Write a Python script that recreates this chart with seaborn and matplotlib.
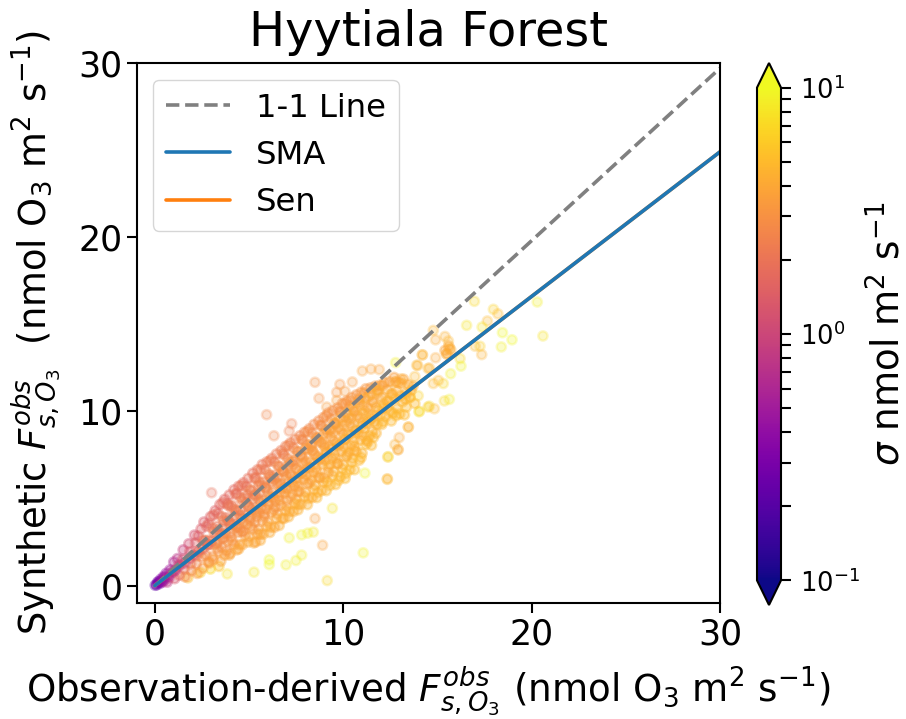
import numpy as np
import seaborn as sns
import matplotlib.pyplot as plt
from matplotlib.colors import LogNorm
from matplotlib.cm import ScalarMappable

# dense part of the cloud
core_obs = [
    0.02, 0.1, 0.15, 0.25, 0.3, 0.4, 0.45, 0.5, 0.6, 0.65, 0.75, 0.8,
    1.0, 1.02, 1.05, 1.2, 1.25, 1.3, 1.5, 1.48, 1.55, 1.6,
    1.8, 1.85, 1.9, 1.95, 2.1, 2.15, 2.2, 2.2, 2.25,
    2.6, 2.75, 2.65, 2.8, 2.7, 2.85,
    3.2, 3.1, 3.3, 3.15, 3.25, 3.3, 3.1,
    3.7, 3.6, 3.8, 3.65, 3.75, 3.6, 3.8, 3.7,
    4.2, 4.3, 4.1, 4.25, 4.15, 4.3, 4.1, 4.2, 4.35,
    4.7, 4.6, 4.75, 4.65, 4.8, 4.6, 4.7, 4.8, 4.65,
    5.2, 5.3, 5.1, 5.25, 5.15, 5.3, 5.1, 5.2, 5.35, 5.25,
    5.7, 5.6, 5.8, 5.65, 5.75, 5.6, 5.8, 5.7, 5.6, 5.75,
    6.2, 6.1, 6.3, 6.15, 6.25, 6.1, 6.3, 6.2, 6.35, 6.15,
    6.7, 6.8, 6.6, 6.75, 6.65, 6.8, 6.6, 6.7, 6.75, 6.85,
    7.2, 7.1, 7.3, 7.15, 7.25, 7.1, 7.3, 7.2, 7.15, 7.35,
    7.7, 7.8, 7.6, 7.75, 7.65, 7.8, 7.6, 7.7, 7.75, 7.6,
    8.2, 8.1, 8.3, 8.15, 8.25, 8.1, 8.3, 8.2, 8.35, 8.15,
    8.7, 8.8, 8.6, 8.75, 8.65, 8.8, 8.6, 8.7, 8.85, 8.65,
    9.2, 9.1, 9.3, 9.15, 9.25, 9.1, 9.3, 9.2, 9.15, 9.3,
    9.7, 9.8, 9.6, 9.75, 9.65, 9.8, 9.6, 9.7, 9.85, 9.75,
    10.2, 10.1, 10.3, 10.15, 10.25, 10.1, 10.3, 10.2, 10.35, 10.15,
    10.7, 10.8, 10.6, 10.75, 10.65, 10.8, 10.6, 10.7, 10.85,
    11.2, 11.1, 11.3, 11.15, 11.25, 11.1, 11.3, 11.2,
    11.7, 11.8, 11.6, 11.75, 11.65, 11.8, 11.6,
    12.2, 12.1, 12.3, 12.15, 12.25, 12.1,
    12.7, 12.8, 12.6, 12.75, 12.65, 12.8,
    13.2, 13.1, 13.3, 13.15, 13.25,
    13.7, 13.6, 13.8,
]
core_syn = [
    0.02, 0.05, 0.2, 0.12, 0.35, 0.2, 0.5, 0.3, 0.7, 0.2, 0.45, 0.9,
    1.35, 0.8, 0.4, 1.55, 1.15, 0.6, 2.05, 1.5, 0.95, 0.5,
    2.4, 1.95, 1.25, 0.85, 2.9, 2.45, 1.7, 1.25, 0.7,
    3.65, 3.4, 2.6, 2.35, 1.75, 1.35,
    4.3, 4.05, 3.4, 3.05, 2.4, 2.15, 1.5,
    4.95, 4.75, 3.9, 3.7, 3.0, 2.7, 2.0, 1.75,
    5.5, 5.25, 4.6, 4.35, 3.5, 3.35, 2.55, 2.35, 2.05,
    5.9, 5.75, 5.0, 4.85, 4.05, 3.85, 3.1, 2.85, 2.35,
    6.45, 6.15, 5.45, 5.2, 4.4, 4.3, 3.4, 3.25, 2.5, 2.45,
    6.95, 6.65, 5.95, 5.75, 4.9, 4.75, 3.95, 3.7, 2.95, 2.95,
    7.3, 7.15, 6.3, 6.15, 5.35, 5.1, 4.35, 4.2, 3.35, 3.35,
    7.75, 7.6, 6.85, 6.65, 5.8, 5.6, 4.9, 4.6, 3.85, 3.85,
    8.2, 8.05, 7.15, 7.05, 6.3, 6.0, 5.25, 5.1, 4.25, 4.25,
    8.6, 8.4, 7.7, 7.45, 6.6, 6.45, 5.7, 5.4, 4.65, 4.65,
    9.0, 8.85, 8.0, 7.85, 7.1, 6.8, 6.05, 5.9, 5.05, 5.0,
    9.45, 9.2, 8.5, 8.25, 7.4, 7.25, 6.5, 6.2, 5.45, 5.35,
    9.9, 9.75, 8.9, 8.75, 8.0, 7.7, 6.95, 6.8, 5.95, 5.75,
    10.2, 10.0, 9.3, 9.05, 8.2, 8.05, 7.3, 7.0, 6.25, 6.05,
    10.6, 10.45, 9.6, 9.45, 8.7, 8.4, 7.65, 7.5, 6.65, 6.45,
    10.95, 10.7, 10.0, 9.75, 8.9, 8.75, 8.0, 7.7, 7.2,
    11.3, 11.05, 10.2, 10.05, 9.3, 9.0, 8.25, 8.1,
    11.45, 11.2, 10.5, 10.25, 9.4, 9.25, 8.5,
    11.65, 11.5, 10.6, 10.45, 9.7, 9.4,
    11.95, 11.7, 11.0, 10.75, 9.9, 9.75,
    11.85, 11.6, 10.7, 10.55, 9.8,
    11.45, 11.2, 10.45,
]
core_sigma = [
    0.22, 0.25, 0.28, 0.35, 0.32, 0.45, 0.38, 0.5, 0.42, 0.8, 0.65, 0.5,
    0.6, 0.9, 1.3, 0.75, 1.0, 1.6, 0.9, 1.2, 1.7, 2.6,
    1.1, 1.4, 1.9, 2.5, 1.2, 1.5, 2.0, 2.6, 3.5,
    1.4, 1.7, 2.0, 2.3, 2.7, 3.2,
    1.5, 1.8, 2.0, 2.3, 2.6, 2.9, 3.4,
    1.6, 1.8, 2.0, 2.3, 2.5, 2.8, 3.0, 3.6,
    1.7, 1.9, 2.1, 2.3, 2.5, 2.7, 3.0, 3.3, 3.8,
    1.8, 2.0, 2.2, 2.4, 2.6, 2.8, 3.0, 3.4, 3.9,
    1.9, 2.1, 2.3, 2.5, 2.7, 2.9, 3.1, 3.3, 3.6, 4.0,
    2.0, 2.2, 2.4, 2.6, 2.8, 3.0, 3.2, 3.4, 3.7, 4.0,
    2.1, 2.3, 2.5, 2.7, 2.9, 3.1, 3.3, 3.5, 3.8, 4.1,
    2.2, 2.4, 2.6, 2.8, 3.0, 3.2, 3.4, 3.6, 3.9, 4.2,
    2.3, 2.5, 2.7, 2.9, 3.1, 3.3, 3.5, 3.7, 4.0, 4.2,
    2.5, 2.7, 2.9, 3.1, 3.3, 3.5, 3.7, 3.9, 4.1, 4.3,
    2.6, 2.8, 3.0, 3.2, 3.4, 3.6, 3.8, 4.0, 4.2, 4.4,
    2.7, 2.9, 3.1, 3.3, 3.5, 3.7, 3.9, 4.1, 4.3, 4.5,
    2.8, 3.0, 3.3, 3.5, 3.7, 3.9, 4.1, 4.3, 4.5, 4.7,
    2.9, 3.1, 3.4, 3.6, 3.8, 4.0, 4.2, 4.4, 4.6, 4.8,
    3.0, 3.2, 3.5, 3.7, 3.9, 4.1, 4.3, 4.5, 4.7, 4.9,
    3.1, 3.4, 3.6, 3.8, 4.0, 4.2, 4.4, 4.6, 4.8,
    3.2, 3.5, 3.8, 4.0, 4.2, 4.4, 4.6, 4.8,
    3.3, 3.6, 3.9, 4.2, 4.4, 4.6, 4.8,
    3.4, 3.8, 4.1, 4.4, 4.6, 4.8,
    3.5, 4.0, 4.3, 4.5, 4.7, 4.9,
    3.8, 4.2, 4.5, 4.7, 4.9,
    4.2, 4.6, 5.0,
]

# second pass through the cloud, between the columns above
fill_obs = [
    1.75, 2.4, 2.95, 3.4,
    2.45, 2.3, 2.55, 2.35, 2.5, 2.55,
    2.95, 2.85, 3.05, 2.85, 3.0, 3.05, 2.9,
    3.45, 3.35, 3.55, 3.35, 3.5, 3.55, 3.4, 3.5,
    3.95, 3.85, 4.05, 3.85, 4.0, 4.05, 3.9, 4.0, 3.95,
    4.45, 4.35, 4.55, 4.35, 4.5, 4.55, 4.4, 4.5, 4.45,
    4.95, 4.85, 5.05, 4.85, 5.0, 5.05, 4.9, 5.0, 4.95,
    5.45, 5.35, 5.55, 5.35, 5.5, 5.55, 5.4, 5.5, 5.45, 5.6,
    5.95, 5.85, 6.05, 5.85, 6.0, 6.05, 5.9, 6.0, 5.95, 6.1,
    6.45, 6.35, 6.55, 6.35, 6.5, 6.55, 6.4, 6.5, 6.45, 6.6,
    6.95, 6.85, 7.05, 6.85, 7.0, 7.05, 6.9, 7.0, 6.95, 7.1,
    7.45, 7.35, 7.55, 7.35, 7.5, 7.55, 7.4, 7.5, 7.45, 7.6,
    7.95, 7.85, 8.05, 7.85, 8.0, 8.05, 7.9, 8.0, 7.95, 8.1,
    8.45, 8.35, 8.55, 8.35, 8.5, 8.55, 8.4, 8.5, 8.45, 8.6,
    8.95, 8.85, 9.05, 8.85, 9.0, 9.05, 8.9, 9.0, 8.95, 9.1,
    9.45, 9.35, 9.55, 9.35, 9.5, 9.55, 9.4, 9.5, 9.45, 9.6,
    9.95, 9.85, 10.05, 9.85, 10.0, 10.05, 9.9, 10.0, 9.95, 10.1,
    10.45, 10.35, 10.55, 10.35, 10.5, 10.55, 10.4, 10.5, 10.45, 10.6,
    10.95, 10.85, 11.05, 10.85, 11.0, 11.05, 10.9, 11.0, 10.95,
    11.45, 11.35, 11.55, 11.35, 11.5, 11.55, 11.4, 11.5,
    11.95, 11.85, 12.05, 11.85, 12.0, 12.05,
    12.45, 12.35, 12.55, 12.35, 12.5, 12.55,
    12.95, 12.85, 13.05, 12.85, 13.0,
    13.45, 13.35, 13.55, 13.35,
    15.4, 15.6, 15.5, 15.7,
]
fill_syn = [
    0.45, 0.75, 0.95, 1.1,
    3.25, 2.85, 2.6, 1.9, 1.65, 1.0,
    3.95, 3.55, 3.3, 2.6, 2.35, 1.65, 1.3,
    4.65, 4.15, 3.95, 3.2, 2.95, 2.2, 1.95, 1.4,
    5.2, 4.7, 4.5, 3.75, 3.5, 2.8, 2.55, 1.85, 1.75,
    5.7, 5.3, 5.05, 4.3, 4.05, 3.3, 3.05, 2.35, 2.1,
    6.15, 5.7, 5.5, 4.75, 4.5, 3.75, 3.5, 2.8, 2.5,
    6.65, 6.2, 5.95, 5.2, 4.95, 4.2, 3.95, 3.2, 2.95, 2.6,
    7.1, 6.65, 6.4, 5.65, 5.4, 4.65, 4.4, 3.65, 3.4, 3.05,
    7.55, 7.1, 6.85, 6.1, 5.85, 5.1, 4.85, 4.1, 3.85, 3.45,
    8.0, 7.5, 7.3, 6.55, 6.3, 5.55, 5.3, 4.55, 4.3, 3.95,
    8.4, 7.9, 7.7, 6.95, 6.7, 5.95, 5.7, 4.95, 4.7, 4.35,
    8.8, 8.35, 8.1, 7.35, 7.1, 6.35, 6.1, 5.35, 5.1, 4.65,
    9.25, 8.75, 8.5, 7.75, 7.5, 6.75, 6.5, 5.75, 5.5, 5.05,
    9.65, 9.2, 8.95, 8.2, 7.95, 7.2, 6.95, 6.2, 5.95, 5.45,
    10.05, 9.55, 9.3, 8.55, 8.3, 7.55, 7.3, 6.55, 6.3, 5.8,
    10.45, 9.95, 9.7, 8.95, 8.7, 7.95, 7.7, 6.95, 6.7, 6.15,
    10.8, 10.3, 10.05, 9.3, 9.05, 8.3, 8.05, 7.3, 7.05, 6.65,
    11.1, 10.6, 10.35, 9.6, 9.35, 8.6, 8.35, 7.6, 7.35,
    11.35, 10.85, 10.6, 9.85, 9.6, 8.85, 8.6, 8.05,
    11.5, 11.05, 10.8, 10.05, 9.8, 9.25,
    11.7, 11.25, 11.0, 10.25, 10.0, 9.45,
    11.65, 11.15, 10.9, 10.15, 9.85,
    11.55, 11.05, 10.8, 10.25,
    13.5, 13.75, 13.3, 13.55,
]
fill_sigma = [
    5.0, 6.0, 7.0, 5.5,
    1.4, 1.7, 2.0, 2.4, 2.8, 3.4,
    1.5, 1.8, 2.1, 2.4, 2.7, 3.0, 3.5,
    1.6, 1.9, 2.1, 2.4, 2.6, 2.9, 3.2, 3.7,
    1.7, 1.9, 2.2, 2.4, 2.6, 2.8, 3.1, 3.5, 3.9,
    1.8, 2.0, 2.3, 2.5, 2.7, 2.9, 3.2, 3.6, 4.0,
    1.9, 2.1, 2.4, 2.6, 2.8, 3.0, 3.3, 3.7, 4.1,
    2.0, 2.2, 2.4, 2.6, 2.8, 3.0, 3.2, 3.5, 3.8, 4.2,
    2.1, 2.3, 2.5, 2.7, 2.9, 3.1, 3.3, 3.6, 3.9, 4.2,
    2.2, 2.4, 2.6, 2.8, 3.0, 3.2, 3.4, 3.7, 4.0, 4.3,
    2.3, 2.5, 2.7, 2.9, 3.1, 3.3, 3.5, 3.8, 4.1, 4.4,
    2.4, 2.6, 2.8, 3.0, 3.2, 3.4, 3.6, 3.9, 4.2, 4.5,
    2.6, 2.8, 3.0, 3.2, 3.4, 3.6, 3.8, 4.0, 4.3, 4.6,
    2.7, 2.9, 3.1, 3.3, 3.5, 3.7, 3.9, 4.1, 4.4, 4.7,
    2.8, 3.0, 3.2, 3.4, 3.6, 3.8, 4.0, 4.2, 4.5, 4.8,
    2.9, 3.1, 3.3, 3.5, 3.7, 3.9, 4.1, 4.3, 4.6, 4.9,
    3.0, 3.2, 3.4, 3.6, 3.8, 4.0, 4.2, 4.4, 4.7, 5.0,
    3.1, 3.3, 3.5, 3.7, 3.9, 4.1, 4.3, 4.5, 4.8, 5.0,
    3.2, 3.4, 3.6, 3.8, 4.0, 4.2, 4.4, 4.6, 4.9,
    3.3, 3.5, 3.8, 4.0, 4.2, 4.4, 4.6, 4.8,
    3.5, 3.8, 4.1, 4.4, 4.6, 4.8,
    3.6, 4.0, 4.3, 4.5, 4.7, 4.9,
    3.8, 4.2, 4.5, 4.7, 4.9,
    4.2, 4.5, 4.8, 5.0,
    3.8, 4.0, 4.0, 4.2,
]

# thickest middle of the band
inner_obs = [
    0.2, 0.35, 0.5, 0.7, 0.9, 1.1, 1.35, 1.6, 1.85, 2.05, 2.3, 2.55, 2.8, 3.0,
    3.3, 3.35, 3.6, 3.65, 3.95, 4.05, 4.25, 4.4, 4.55, 4.7, 4.95, 5.05, 5.2, 5.4,
    5.55, 5.65, 5.9, 6.0, 6.2, 6.3, 6.5, 6.65, 6.8, 6.95, 7.1, 7.3, 7.4, 7.55,
    7.75, 7.85, 8.0, 8.2, 8.3, 8.5, 8.65, 8.8, 8.95, 9.1, 9.3, 9.4, 9.55, 9.75,
    9.85, 10.05, 10.2, 10.35, 10.5, 10.7, 10.85, 11.0, 11.15, 11.35, 11.5, 11.65, 11.85, 12.1,
    4.6, 5.3, 5.8, 6.4, 7.0, 7.6, 8.1, 8.75, 9.2, 9.7, 10.15, 10.6, 11.25, 11.75,
    3.9, 4.9, 5.5, 6.1, 6.7, 7.2, 7.9, 8.4, 9.0, 9.5, 10.0, 10.45, 11.05, 12.4,
]
inner_syn = [
    0.2, 0.25, 0.45, 0.55, 0.75, 0.9, 1.2, 1.3, 1.55, 1.75, 2.0, 2.1, 2.35, 2.55,
    3.05, 2.5, 3.3, 2.75, 3.7, 3.1, 4.0, 3.35, 4.3, 3.65, 4.6, 3.9, 4.95, 4.2,
    5.3, 4.45, 5.6, 4.8, 5.95, 5.05, 6.2, 5.35, 6.55, 5.6, 6.9, 5.9, 7.15, 6.2,
    7.5, 6.45, 7.85, 6.75, 8.1, 7.05, 8.4, 7.3, 8.7, 7.6, 9.0, 7.85, 9.35, 8.1,
    9.6, 8.4, 9.9, 8.65, 10.2, 8.9, 10.5, 9.2, 10.75, 9.45, 11.0, 9.75, 11.2, 10.2,
    3.1, 3.65, 4.1, 4.5, 4.9, 5.4, 5.85, 6.2, 6.5, 7.0, 7.4, 7.75, 8.35, 8.75,
    4.6, 5.2, 5.75, 6.3, 5.85, 6.4, 7.0, 7.7, 8.1, 8.8, 9.2, 9.6, 9.9, 10.6,
]
inner_sigma = [
    0.3, 0.4, 0.45, 0.55, 0.7, 0.8, 0.95, 1.1, 1.25, 1.4, 1.55, 1.7, 1.8, 1.9,
    2.0, 2.7, 2.0, 2.8, 2.1, 2.8, 2.1, 2.9, 2.2, 3.0, 2.3, 3.0, 2.3, 3.1,
    2.5, 3.1, 2.6, 3.2, 2.6, 3.3, 2.8, 3.4, 2.9, 3.5, 3.0, 3.6, 3.1, 3.7,
    3.2, 3.8, 3.3, 3.8, 3.4, 3.9, 3.5, 4.0, 3.6, 4.1, 3.7, 4.2, 3.8, 4.2,
    3.9, 4.3, 4.0, 4.4, 4.0, 4.5, 4.1, 4.5, 4.2, 4.6, 4.3, 4.6, 4.4, 4.7,
    2.8, 2.9, 3.0, 3.1, 3.3, 3.4, 3.5, 3.7, 3.8, 3.9, 4.1, 4.2, 4.4, 4.5,
    2.0, 2.2, 2.4, 2.5, 3.0, 3.2, 3.3, 3.5, 3.7, 3.8, 4.0, 4.1, 4.4, 4.6,
]

# loose points at the edges of the cloud
edge_obs = [
    3.01, 5.93, 8.50, 8.71, 9.12, 7.26, 7.13, 6.32, 9.82, 9.65, 10.09, 10.48, 11.01, 11.47, 11.91,
    9.65, 10.35, 12.78, 14.2, 13.9, 14.5, 12.34, 11.06, 9.15, 8.9, 8.5, 9.42, 7.13, 7.79, 8.11, 8.41,
    6.07, 6.07, 6.96, 7.49, 7.79, 5.26, 3.84, 11.15, 12.36, 12.9, 13.45, 14.04, 14.5,
    16.96, 17.97, 18.21, 17.65, 16.55, 17.37, 20.3, 20.6, 18.45, 18.96, 18.39, 17.26, 17.0, 17.35,
    14.78, 14.9, 15.4, 15.58, 15.63, 15.49, 14.2, 14.9, 13.95, 14.57, 16.2, 16.25, 15.7, 15.31,
    13.8, 13.05, 12.75, 14.78, 15.05, 13.98, 13.54, 15.63, 15.37, 14.57, 14.84, 14.02, 13.46,
    12.97, 12.74, 12.92, 12.39, 12.34,
]
edge_syn = [
    5.33, 9.81, 11.67, 10.75, 10.25, 9.29, 8.87, 8.60, 11.55, 11.1, 11.15, 11.69, 12.32, 12.43, 12.4,
    10.63, 10.63, 12.8, 13.24, 12.65, 12.46, 6.13, 1.88, 0.29, 2.32, 3.85, 4.44, 2.74, 2.91, 3.01, 3.07,
    1.48, 1.21, 1.19, 1.44, 1.75, 0.77, 0.67, 6.46, 7.38, 7.8, 9.1, 10.0, 10.25,
    16.32, 15.86, 15.6, 15.19, 14.94, 14.84, 16.28, 14.33, 14.52, 14.11, 13.7, 13.74, 13.74, 13.26,
    14.65, 14.11, 14.3, 14.04, 13.6, 13.3, 13.25, 13.08, 12.64, 12.49, 13.03, 12.6, 12.16, 11.6,
    12.0, 11.87, 11.68, 11.6, 11.78, 10.9, 10.82, 10.69, 10.6, 10.3, 10.15, 9.98, 9.1,
    8.5, 8.1, 7.8, 7.4, 6.1,
]
edge_sigma = [
    1.9, 2.6, 3.0, 3.0, 3.5, 2.4, 2.4, 2.6, 3.2, 3.2, 3.4, 3.5, 3.8, 3.8, 3.8,
    3.6, 3.8, 9.0, 4.5, 4.8, 5.0, 4.5, 9.5, 7.0, 3.8, 3.6, 8.0, 9.0, 9.5, 9.0, 8.5,
    10.0, 10.0, 9.0, 9.0, 9.0, 8.5, 8.0, 9.5, 5.5, 5.0, 5.0, 6.0, 6.0,
    7.0, 6.5, 5.0, 5.0, 8.0, 8.0, 9.0, 8.0, 10.0, 10.0, 9.0, 6.5, 5.0, 4.5,
    4.8, 4.2, 4.5, 4.8, 4.6, 4.5, 4.6, 4.0, 4.6, 4.5, 7.0, 9.5, 9.0, 7.0,
    5.0, 4.5, 4.5, 5.0, 5.0, 6.5, 6.0, 9.0, 7.0, 7.0, 5.0, 8.0, 4.2,
    4.0, 4.5, 3.8, 7.0, 5.0,
]

line_x = [0, 30]
one_one = [0, 29.7]
sma_y = [0, 24.9]
sen_y = [0, 24.9]

sns.set_style("ticks")
plt.rcParams['font.family'] = 'DejaVu Sans'
plt.rcParams['text.color'] = 'black'
plt.rcParams['axes.labelcolor'] = 'black'
plt.rcParams['xtick.color'] = 'black'
plt.rcParams['ytick.color'] = 'black'

W, H = 906, 719
fig = plt.figure(figsize=(W / 100, H / 100), dpi=100)
ax = fig.add_axes([137 / W, 1 - 603 / H, (720 - 137) / W, (603 - 63) / H])

norm = LogNorm(vmin=0.1, vmax=10)
sns.scatterplot(x=edge_obs, y=edge_syn, hue=edge_sigma, hue_norm=norm, palette='plasma',
                alpha=0.25, s=44, linewidth=1.8, edgecolor='face', legend=False, ax=ax)
for xs, ys, cs in [(fill_obs, fill_syn, fill_sigma), (core_obs, core_syn, core_sigma),
                   (inner_obs, inner_syn, inner_sigma)]:
    sns.scatterplot(x=xs, y=ys, hue=cs, hue_norm=norm, palette='plasma',
                    alpha=0.36, s=44, linewidth=1.8, edgecolor='face', legend=False, ax=ax)

l1, = ax.plot(line_x, one_one, color='gray', ls='--', lw=2.6, label='1-1 Line')
l3, = ax.plot(line_x, sen_y, color='#ff7f0e', lw=2.6, label='Sen')
l2, = ax.plot(line_x, sma_y, color='#1f77b4', lw=2.6, label='SMA')

ax.set_xlim(-0.95, 30)
ax.set_ylim(-1.0, 30)
ax.set_xticks([0, 10, 20, 30])
ax.set_yticks([0, 10, 20, 30])
ax.tick_params(labelsize=25, length=7, width=1.5, color='black')
for s in ax.spines.values():
    s.set_linewidth(1.5)
    s.set_color('black')

ax.set_title('Hyytiala Forest', fontsize=34.5, pad=12)
ax.set_xlabel(r'Observation-derived $F_{s,O_3}^{obs}$ (nmol O$_3$ m$^2$ s$^{-1}$)', fontsize=26.8, labelpad=9)
ax.set_ylabel(r'Synthetic $F_{s,O_3}^{obs}$  (nmol O$_3$ m$^2$ s$^{-1}$)', fontsize=26.6, labelpad=11)

leg = ax.legend(handles=[l1, l2, l3], loc='upper left', fontsize=23.2, frameon=True,
                bbox_to_anchor=(0.027, 0.969), borderaxespad=0)
leg.get_frame().set_edgecolor('0.8')

cax = fig.add_axes([757 / W, 1 - 605 / H, 24 / W, (605 - 63) / H])
cb = fig.colorbar(ScalarMappable(norm=norm, cmap='plasma'), cax=cax, extend='both')
cb.ax.tick_params(labelsize=18.5, which='major', length=7, width=1.5, pad=7)
cb.ax.tick_params(which='minor', length=7, width=1.5)
cb.outline.set_linewidth(1.5)
cb.outline.set_edgecolor('black')
cb.set_label(r'$\sigma$ nmol m$^2$ s$^{-1}$', fontsize=26.8, labelpad=6)

fig.savefig('out.png', dpi=100)
